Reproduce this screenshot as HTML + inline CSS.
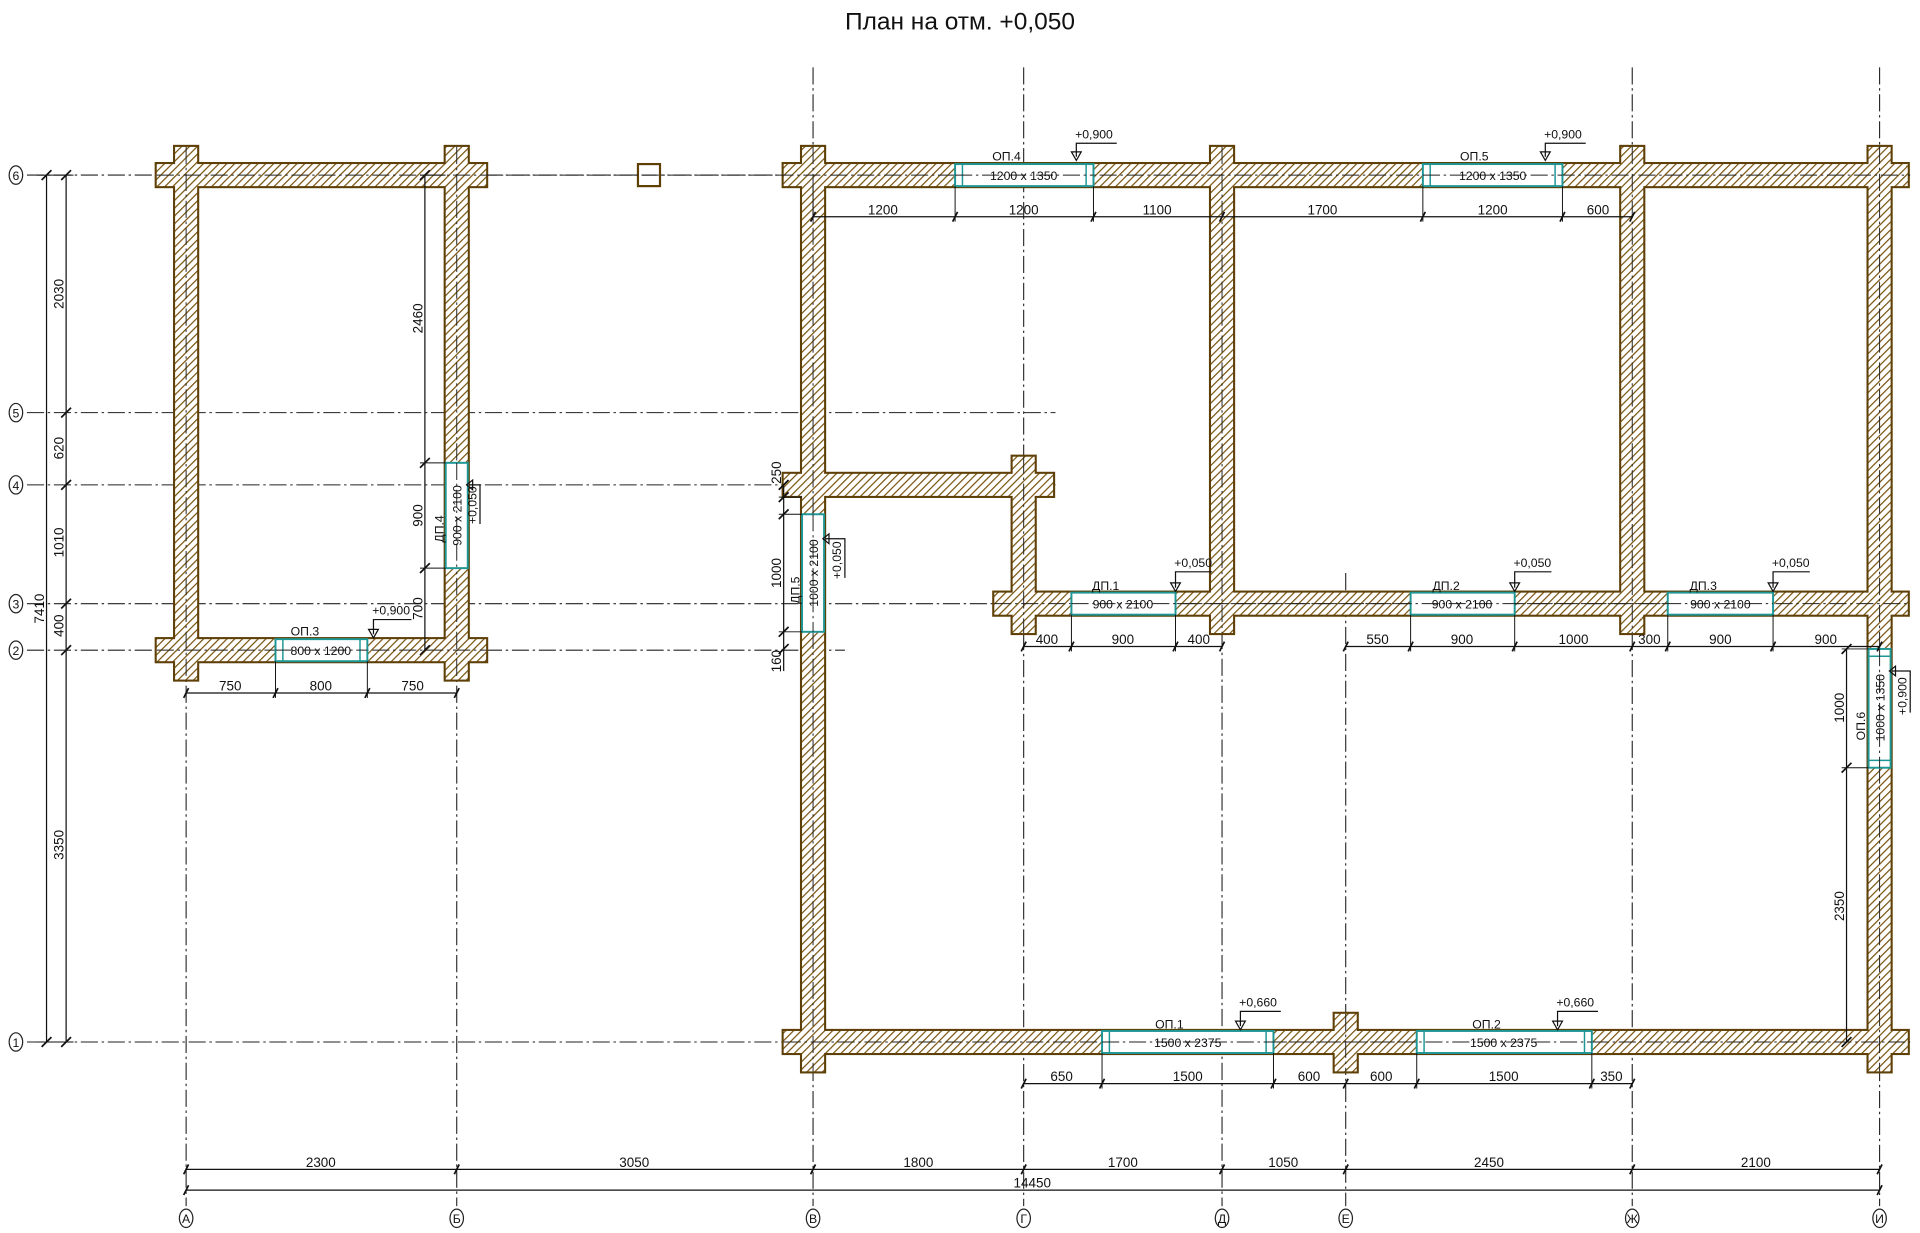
<!DOCTYPE html>
<html><head><meta charset="utf-8"><style>
html,body{margin:0;padding:0;background:#fff;}
svg{display:block;}
text{font-family:"Liberation Sans Narrow","Liberation Sans",sans-serif;fill:#111;}
</style></head><body>
<svg width="1920" height="1233" viewBox="0 0 1568 1007" preserveAspectRatio="none" xmlns="http://www.w3.org/2000/svg">
<defs>
<pattern id="h" patternUnits="userSpaceOnUse" width="4.5" height="4.5" patternTransform="rotate(45)">
<rect width="4.5" height="4.5" fill="#fff"/><line x1="0" y1="0" x2="0" y2="4.5" stroke="#7a5410" stroke-width="2"/>
</pattern>
</defs>
<text x="784" y="24" font-size="20" text-anchor="middle">План на отм. +0,050</text>

<g stroke="#222" stroke-width="0.9" stroke-dasharray="14,3,2,3" fill="none">
<line x1="22" y1="143" x2="1560" y2="143"/>
<line x1="22" y1="337" x2="862" y2="337"/>
<line x1="22" y1="396" x2="862" y2="396"/>
<line x1="22" y1="493" x2="1560" y2="493"/>
<line x1="22" y1="531" x2="690" y2="531"/>
<line x1="22" y1="851" x2="1560" y2="851"/>
<line x1="152" y1="120" x2="152" y2="985"/>
<line x1="373" y1="120" x2="373" y2="985"/>
<line x1="664" y1="55" x2="664" y2="985"/>
<line x1="836" y1="55" x2="836" y2="985"/>
<line x1="998" y1="120" x2="998" y2="985"/>
<line x1="1099" y1="468" x2="1099" y2="985"/>
<line x1="1333" y1="55" x2="1333" y2="985"/>
<line x1="1535" y1="55" x2="1535" y2="985"/>
</g>
<g fill="none" stroke="#222" stroke-width="1">
<ellipse cx="13" cy="143" rx="5.5" ry="7.5"/><ellipse cx="13" cy="337" rx="5.5" ry="7.5"/><ellipse cx="13" cy="396" rx="5.5" ry="7.5"/>
<ellipse cx="13" cy="493" rx="5.5" ry="7.5"/><ellipse cx="13" cy="531" rx="5.5" ry="7.5"/><ellipse cx="13" cy="851" rx="5.5" ry="7.5"/>
<ellipse cx="152" cy="995" rx="5.5" ry="7.5"/><ellipse cx="373" cy="995" rx="5.5" ry="7.5"/><ellipse cx="664" cy="995" rx="5.5" ry="7.5"/>
<ellipse cx="836" cy="995" rx="5.5" ry="7.5"/><ellipse cx="998" cy="995" rx="5.5" ry="7.5"/><ellipse cx="1099" cy="995" rx="5.5" ry="7.5"/>
<ellipse cx="1333" cy="995" rx="5.5" ry="7.5"/><ellipse cx="1535" cy="995" rx="5.5" ry="7.5"/>
</g>
<g font-size="10" text-anchor="middle">
<text x="13" y="147">6</text><text x="13" y="341">5</text><text x="13" y="400">4</text><text x="13" y="497">3</text><text x="13" y="535">2</text><text x="13" y="855">1</text>
<text x="152" y="999">А</text><text x="373" y="999">Б</text><text x="664" y="999">В</text><text x="836" y="999">Г</text><text x="998" y="999">Д</text><text x="1099" y="999">Е</text><text x="1333" y="999">Ж</text><text x="1535" y="999">И</text>
</g>

<g stroke="#5e4006" stroke-width="3.4" fill="#fff">
<rect x="128" y="134" width="269" height="18"/><rect x="128" y="522" width="269" height="18"/>
<rect x="143" y="120" width="18" height="435"/><rect x="364" y="120" width="18" height="435"/>
<rect x="640" y="134" width="918" height="18"/><rect x="640" y="842" width="918" height="18"/>
<rect x="655" y="120" width="18" height="755"/><rect x="1526" y="120" width="18" height="755"/>
<rect x="989" y="120" width="18" height="397"/><rect x="1324" y="120" width="18" height="397"/>
<rect x="812" y="484" width="746" height="18"/><rect x="827" y="373" width="18" height="144"/>
<rect x="640" y="387" width="220" height="18"/><rect x="1090" y="828" width="18" height="47"/>
</g>
<g fill="url(#h)">
<rect x="128" y="134" width="269" height="18"/><rect x="128" y="522" width="269" height="18"/>
<rect x="143" y="120" width="18" height="435"/><rect x="364" y="120" width="18" height="435"/>
<rect x="640" y="134" width="918" height="18"/><rect x="640" y="842" width="918" height="18"/>
<rect x="655" y="120" width="18" height="755"/><rect x="1526" y="120" width="18" height="755"/>
<rect x="989" y="120" width="18" height="397"/><rect x="1324" y="120" width="18" height="397"/>
<rect x="812" y="484" width="746" height="18"/><rect x="827" y="373" width="18" height="144"/>
<rect x="640" y="387" width="220" height="18"/><rect x="1090" y="828" width="18" height="47"/>
</g>
<rect x="521" y="134" width="18" height="18" fill="#fff" stroke="#5e4006" stroke-width="1.8"/>
<line x1="524" y1="143" x2="536" y2="143" stroke="#222" stroke-width="0.9"/>
<g stroke="#222" stroke-width="0.8" stroke-dasharray="14,3,2,3">
<line x1="128" y1="143" x2="1560" y2="143"/><line x1="128" y1="531" x2="397" y2="531"/>
<line x1="640" y1="851" x2="1560" y2="851"/><line x1="812" y1="493" x2="1560" y2="493"/>
<line x1="152" y1="120" x2="152" y2="555"/><line x1="373" y1="120" x2="373" y2="555"/>
<line x1="664" y1="120" x2="664" y2="875"/><line x1="1535" y1="120" x2="1535" y2="875"/>
<line x1="998" y1="120" x2="998" y2="517"/><line x1="1333" y1="120" x2="1333" y2="517"/>
<line x1="836" y1="373" x2="836" y2="517"/><line x1="1099" y1="828" x2="1099" y2="875"/>
</g>

<g fill="#fff" stroke="#1f9696" stroke-width="1.6">
<rect x="780" y="134" width="113" height="18"/><rect x="1162" y="134" width="114" height="18"/>
<rect x="875" y="484" width="85" height="18"/><rect x="1152" y="484" width="85" height="18"/><rect x="1362" y="484" width="86" height="18"/>
<rect x="900" y="842" width="140" height="18"/><rect x="1157" y="842" width="143" height="18"/>
<rect x="225" y="522" width="75" height="18"/>
<rect x="364" y="378" width="18" height="86"/><rect x="655" y="420" width="18" height="96"/><rect x="1526" y="530" width="18" height="97"/>
</g>
<g stroke="#1f9696" stroke-width="1.2">
<line x1="786" y1="134" x2="786" y2="152"/><line x1="887" y1="134" x2="887" y2="152"/>
<line x1="1168" y1="134" x2="1168" y2="152"/><line x1="1270" y1="134" x2="1270" y2="152"/>
<line x1="906" y1="842" x2="906" y2="860"/><line x1="1034" y1="842" x2="1034" y2="860"/>
<line x1="1163" y1="842" x2="1163" y2="860"/><line x1="1294" y1="842" x2="1294" y2="860"/>
<line x1="231" y1="522" x2="231" y2="540"/><line x1="294" y1="522" x2="294" y2="540"/>
<line x1="1526" y1="536" x2="1544" y2="536"/><line x1="1526" y1="621" x2="1544" y2="621"/>
</g>
<g stroke="#222" stroke-width="0.8" stroke-dasharray="14,3,2,3">
<line x1="780" y1="143" x2="893" y2="143"/><line x1="1162" y1="143" x2="1276" y2="143"/>
<line x1="875" y1="493" x2="1448" y2="493"/><line x1="900" y1="851" x2="1300" y2="851"/>
<line x1="225" y1="531" x2="300" y2="531"/><line x1="373" y1="378" x2="373" y2="464"/>
<line x1="664" y1="420" x2="664" y2="516"/><line x1="1535" y1="530" x2="1535" y2="627"/>
</g>
<g font-size="10" text-anchor="middle">
<text x="836" y="147">1200 x 1350</text><text x="1219" y="147">1200 x 1350</text>
<text x="822" y="131">ОП.4</text><text x="1204" y="131">ОП.5</text>
<text x="917" y="497">900 x 2100</text><text x="1194" y="497">900 x 2100</text><text x="1405" y="497">900 x 2100</text>
<text x="903" y="482">ДП.1</text><text x="1181" y="482">ДП.2</text><text x="1391" y="482">ДП.3</text>
<text x="970" y="855">1500 x 2375</text><text x="1228" y="855">1500 x 2375</text>
<text x="955" y="840">ОП.1</text><text x="1214" y="840">ОП.2</text>
<text x="262" y="535">800 x 1200</text><text x="249" y="519">ОП.3</text>
<text transform="translate(377,421) rotate(-90)">900 x 2100</text><text transform="translate(362,432) rotate(-90)">ДП.4</text>
<text transform="translate(668,468) rotate(-90)">1000 x 2100</text><text transform="translate(653,482) rotate(-90)">ДП.5</text>
<text transform="translate(1539,578) rotate(-90)">1000 x 1350</text><text transform="translate(1523,593) rotate(-90)">ОП.6</text>
</g>

<g stroke="#111" stroke-width="1" fill="none">
<path d="M879,128 L879,117 L912,117 M875,124 L883,124 L879,131 Z"/>
<path d="M1262,128 L1262,117 L1295,117 M1258,124 L1266,124 L1262,131 Z"/>
<path d="M960,480 L960,467 L990,467 M956,476 L964,476 L960,483 Z"/>
<path d="M1237,480 L1237,467 L1267,467 M1233,476 L1241,476 L1237,483 Z"/>
<path d="M1448,480 L1448,467 L1478,467 M1444,476 L1452,476 L1448,483 Z"/>
<path d="M1013,838 L1013,826 L1046,826 M1009,834 L1017,834 L1013,841 Z"/>
<path d="M1272,838 L1272,826 L1305,826 M1268,834 L1276,834 L1272,841 Z"/>
<path d="M305,518 L305,506 L336,506 M301,514 L309,514 L305,521 Z"/>
<path d="M383,396 L392,396 L392,428 M386,392 L386,400 L381,396 Z"/>
<path d="M674,440 L690,440 L690,472 M677,436 L677,444 L672,440 Z"/>
<path d="M1545,548 L1560,548 L1560,582 M1548,544 L1548,552 L1543,548 Z"/>
</g>
<g font-size="10">
<text x="878" y="113">+0,900</text><text x="1261" y="113">+0,900</text>
<text x="959" y="463">+0,050</text><text x="1236" y="463">+0,050</text><text x="1447" y="463">+0,050</text>
<text x="1012" y="822">+0,660</text><text x="1271" y="822">+0,660</text>
<text x="304" y="502">+0,900</text>
<text transform="translate(389,428) rotate(-90)">+0,050</text>
<text transform="translate(687,473) rotate(-90)">+0,050</text>
<text transform="translate(1557,584) rotate(-90)">+0,900</text>
</g>

<g stroke="#111" stroke-width="1">
<line x1="664" y1="177" x2="1333" y2="177"/>
<line x1="836" y1="528" x2="998" y2="528"/><line x1="1099" y1="528" x2="1535" y2="528"/>
<line x1="836" y1="885" x2="1333" y2="885"/>
<line x1="152" y1="955" x2="1535" y2="955"/><line x1="152" y1="972" x2="1535" y2="972"/>
<line x1="152" y1="566" x2="373" y2="566"/>
<line x1="38" y1="143" x2="38" y2="851"/><line x1="54" y1="143" x2="54" y2="851"/>
<line x1="347" y1="143" x2="347" y2="531"/>
<line x1="640" y1="396" x2="640" y2="548"/>
<line x1="1508" y1="530" x2="1508" y2="851"/>
</g>
<g stroke="#111" stroke-width="1.4">
<path d="M662,181 L666,173 M778,181 L782,173 M891,181 L895,173 M996,181 L1000,173 M1160,181 L1164,173 M1274,181 L1278,173 M1331,181 L1335,173"/>
<path d="M834,532 L838,524 M873,532 L877,524 M958,532 L962,524 M996,532 L1000,524 M1097,532 L1101,524 M1150,532 L1154,524 M1235,532 L1239,524 M1331,532 L1335,524 M1360,532 L1364,524 M1446,532 L1450,524 M1533,532 L1537,524"/>
<path d="M834,889 L838,881 M898,889 L902,881 M1038,889 L1042,881 M1097,889 L1101,881 M1155,889 L1159,881 M1298,889 L1302,881 M1331,889 L1335,881"/>
<path d="M150,959 L154,951 M371,959 L375,951 M662,959 L666,951 M834,959 L838,951 M996,959 L1000,951 M1097,959 L1101,951 M1331,959 L1335,951 M1533,959 L1537,951"/>
<path d="M150,976 L154,968 M1533,976 L1537,968"/>
<path d="M150,570 L154,562 M223,570 L227,562 M298,570 L302,562 M371,570 L375,562"/>
<path d="M34,147 L42,139 M34,855 L42,847 M50,147 L58,139 M50,341 L58,333 M50,400 L58,392 M50,497 L58,489 M50,535 L58,527 M50,855 L58,847"/>
<path d="M343,147 L351,139 M343,382 L351,374 M343,468 L351,460 M343,535 L351,527"/>
<path d="M636,400 L644,392 M636,410 L644,402 M636,424 L644,416 M636,520 L644,512 M636,534 L644,526"/>
<path d="M1504,534 L1512,526 M1504,631 L1512,623 M1504,855 L1512,847"/>
</g>
<g stroke="#111" stroke-width="0.8">
<line x1="664" y1="152" x2="664" y2="181"/><line x1="780" y1="152" x2="780" y2="181"/><line x1="893" y1="152" x2="893" y2="181"/><line x1="1162" y1="152" x2="1162" y2="181"/><line x1="1276" y1="152" x2="1276" y2="181"/>
<line x1="875" y1="502" x2="875" y2="532"/><line x1="960" y1="502" x2="960" y2="532"/><line x1="1152" y1="502" x2="1152" y2="532"/><line x1="1237" y1="502" x2="1237" y2="532"/><line x1="1362" y1="502" x2="1362" y2="532"/><line x1="1448" y1="502" x2="1448" y2="532"/>
<line x1="900" y1="860" x2="900" y2="889"/><line x1="1040" y1="860" x2="1040" y2="889"/><line x1="1157" y1="860" x2="1157" y2="889"/><line x1="1300" y1="860" x2="1300" y2="889"/>
<line x1="225" y1="540" x2="225" y2="570"/><line x1="300" y1="540" x2="300" y2="570"/>
<line x1="30" y1="143" x2="60" y2="143"/><line x1="30" y1="851" x2="60" y2="851"/>
<line x1="343" y1="378" x2="364" y2="378"/><line x1="343" y1="464" x2="364" y2="464"/><line x1="343" y1="143" x2="364" y2="143"/>
<line x1="636" y1="420" x2="655" y2="420"/><line x1="636" y1="516" x2="655" y2="516"/><line x1="636" y1="406" x2="655" y2="406"/>
<line x1="1504" y1="530" x2="1526" y2="530"/><line x1="1504" y1="627" x2="1526" y2="627"/>
</g>
<g font-size="11" text-anchor="middle">
<text x="721" y="175">1200</text><text x="836" y="175">1200</text><text x="945" y="175">1100</text><text x="1080" y="175">1700</text><text x="1219" y="175">1200</text><text x="1305" y="175">600</text>
<text x="855" y="526">400</text><text x="917" y="526">900</text><text x="979" y="526">400</text>
<text x="1125" y="526">550</text><text x="1194" y="526">900</text><text x="1285" y="526">1000</text><text x="1347" y="526">300</text><text x="1405" y="526">900</text><text x="1491" y="526">900</text>
<text x="867" y="883">650</text><text x="970" y="883">1500</text><text x="1069" y="883">600</text><text x="1128" y="883">600</text><text x="1228" y="883">1500</text><text x="1316" y="883">350</text>
<text x="262" y="953">2300</text><text x="518" y="953">3050</text><text x="750" y="953">1800</text><text x="917" y="953">1700</text><text x="1048" y="953">1050</text><text x="1216" y="953">2450</text><text x="1434" y="953">2100</text>
<text x="843" y="970">14450</text>
<text x="188" y="564">750</text><text x="262" y="564">800</text><text x="337" y="564">750</text>
<text transform="translate(52,240) rotate(-90)">2030</text><text transform="translate(52,366) rotate(-90)">620</text><text transform="translate(52,443) rotate(-90)">1010</text><text transform="translate(52,511) rotate(-90)">400</text><text transform="translate(52,690) rotate(-90)">3350</text><text transform="translate(36,497) rotate(-90)">7410</text>
<text transform="translate(345,260) rotate(-90)">2460</text><text transform="translate(345,421) rotate(-90)">900</text><text transform="translate(345,497) rotate(-90)">700</text>
<text transform="translate(638,386) rotate(-90)">250</text><text transform="translate(638,468) rotate(-90)">1000</text><text transform="translate(638,540) rotate(-90)">160</text>
<text transform="translate(1506,578) rotate(-90)">1000</text><text transform="translate(1506,740) rotate(-90)">2350</text>
</g>
</svg>
</body></html>
